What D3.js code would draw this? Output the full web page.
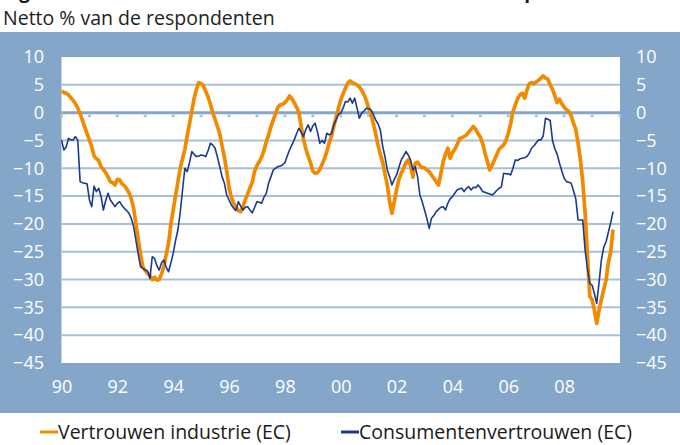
<!DOCTYPE html>
<html>
<head>
<meta charset="utf-8">
<script src="https://cdn.jsdelivr.net/npm/d3@7"></script>
<style>
  body { margin: 0; background: #fff; }
  svg text { font-family: "Open Sans", "DejaVu Sans", sans-serif; }
</style>
</head>
<body>
<script>
// monthly series, Jan 1990 .. Oct 2009 (netto % van de respondenten)
var industrie = [
  3.9, 3.6, 3.5, 3.2, 2.7, 2.2, 1.6, 0.8, -0.2, -1.4, -2.6, -3.8,          // 1990
  -4.9, -6.2, -7.8, -8.3, -8.6, -9.7, -10.2, -10.8, -11.6, -12.4, -12.6, -13.0,
  -12.0, -12.1, -12.8, -13.1, -13.7, -14.4, -15.5, -17.2, -20.0, -23.0, -25.5, -27.8,
  -28.4, -28.9, -29.3, -30.0, -29.6, -30.1, -30.0, -29.0, -27.6, -25.5, -23.5, -20.0,
  -17.5, -15.0, -12.5, -10.0, -8.3, -6.6, -4.2, -2.0, 0.3, 2.6, 4.2, 5.4,
  5.2, 4.8, 3.8, 2.8, 1.5, 0.0, -1.2, -2.5, -3.8, -6.0, -8.0, -10.5,         // 1995
  -13.5, -15.2, -16.3, -17.0, -17.6, -17.8, -16.9, -15.6, -14.6, -13.5, -12.5, -10.5,
  -9.5, -8.8, -8.0, -6.8, -5.2, -4.0, -2.5, -1.3, -0.2, 1.0, 1.4, 1.5,
  1.8, 2.3, 3.0, 2.5, 1.8, 1.0, 0.0, -2.5, -4.8, -6.5, -7.8, -9.0,
  -10.5, -10.9, -10.8, -10.2, -9.3, -8.3, -7.0, -5.5, -4.2, -2.5, -0.8, 0.8,
  2.3, 3.4, 4.4, 5.3, 5.7, 5.4, 5.2, 5.0, 4.6, 4.0, 3.2, 2.2,               // 2000
  0.8, -0.3, -2.0, -3.8, -5.8, -7.5, -8.9, -11.0, -13.0, -16.0, -18.1, -16.0,
  -13.8, -12.0, -10.9, -10.0, -9.0, -8.5, -9.5, -11.6, -9.1, -8.9, -9.5, -9.9,
  -9.9, -10.3, -10.6, -11.2, -11.8, -12.4, -13.0, -11.0, -8.8, -7.5, -6.4, -8.2,
  -7.2, -6.6, -5.8, -4.7, -4.5, -4.3, -4.0, -3.5, -3.0, -2.5, -3.0, -3.8,
  -4.4, -5.6, -7.3, -8.8, -10.3, -9.5, -8.5, -7.6, -6.6, -6.2, -5.8, -5.0,  // 2005
  -3.7, -2.0, 0.2, 1.4, 2.5, 3.2, 3.5, 2.6, 4.0, 5.2, 5.4, 5.2,
  5.5, 5.8, 6.2, 6.6, 6.2, 6.0, 5.0, 4.2, 3.0, 1.8, 2.4, 1.6,
  1.0, 0.5, 0.2, -0.5, -1.9, -3.0, -5.5, -8.5, -12.5, -18.0, -25.5, -33.0,
  -33.6, -35.5, -37.9, -35.5, -33.6, -31.8, -30.1, -27.0, -25.0, -21.0
];

var consumenten = [
  -4.9, -6.7, -6.2, -4.6, -4.9, -4.9, -4.3, -5.0, -12.4, -12.6, -12.7, -12.8, // 1990
  -15.7, -16.9, -13.2, -14.2, -13.6, -15.1, -17.5, -15.8, -14.5, -15.7, -16.3, -16.9,
  -16.3, -16.0, -16.7, -17.2, -17.6, -18.1, -19.0, -20.5, -23.0, -25.5, -27.7, -28.0,
  -28.3, -28.5, -29.8, -25.9, -26.2, -27.5, -28.3, -27.0, -26.5, -27.8, -28.6, -27.0,
  -25.3, -23.0, -21.1, -18.0, -14.0, -10.0, -10.6, -9.0, -7.0, -7.5, -7.9, -7.8,
  -7.6, -7.7, -7.9, -6.8, -5.5, -5.8, -6.4, -8.0, -9.7, -11.5, -12.7, -14.8,  // 1995
  -15.7, -16.6, -17.2, -17.6, -16.0, -16.8, -17.5, -17.0, -16.9, -17.5, -18.0, -17.0,
  -16.0, -16.1, -16.3, -15.2, -14.5, -12.7, -11.5, -10.3, -10.0, -9.7, -9.6, -9.4,
  -9.0, -7.8, -6.7, -5.8, -4.9, -3.8, -2.8, -3.5, -4.3, -3.0, -2.2, -3.4,
  -2.4, -1.9, -3.5, -5.5, -5.0, -5.5, -3.7, -4.0, -3.8, -2.2, -1.3, -0.3,
  -0.1, 0.8, 2.0, 1.9, 2.6, 1.7, 2.6, 0.8, -1.0, -0.1, 0.3, 0.8,              // 2000
  0.7, 0.5, -0.3, -1.3, -2.0, -3.1, -6.0, -7.9, -10.3, -11.5, -13.0, -12.0,
  -11.2, -9.8, -8.5, -7.8, -7.0, -7.6, -8.5, -10.3, -9.7, -11.5, -14.8, -16.0,
  -17.5, -19.0, -20.8, -19.0, -18.5, -17.8, -17.4, -17.0, -16.9, -17.5, -16.3, -15.5,
  -15.1, -14.5, -13.9, -13.7, -13.6, -14.2, -13.6, -13.3, -13.9, -13.4, -13.5, -13.0,
  -13.5, -14.2, -14.3, -14.5, -14.6, -14.8, -14.5, -14.0, -13.6, -13.4, -10.9, -11.0, // 2005
  -11.0, -11.2, -10.0, -8.5, -8.6, -8.3, -8.2, -8.1, -7.9, -7.3, -6.4, -6.0,
  -5.4, -4.9, -4.9, -4.2, -1.0, -1.2, -1.4, -5.0, -6.5, -7.5, -9.1, -10.5,
  -11.8, -12.4, -12.5, -12.7, -14.0, -15.5, -19.3, -19.3, -19.3, -24.7, -28.0, -30.7,
  -31.0, -32.5, -34.3, -30.5, -26.5, -24.2, -23.2, -21.5, -19.8, -17.8
];

var yTicks = [10, 5, 0, -5, -10, -15, -20, -25, -30, -35, -40, -45];
var xTickYears = [1990, 1992, 1994, 1996, 1998, 2000, 2002, 2004, 2006, 2008];
var xTickLabels = ["90", "92", "94", "96", "98", "00", "02", "04", "06", "08"];
var yearMarks = d3.range(1990, 2011);
var legendNames = ["Vertrouwen industrie (EC)", "Consumentenvertrouwen (EC)"];

var W = 680, H = 445;
var plot = {left: 61.5, right: 620, top: 57, bottom: 363};

var svg = d3.select("body").append("svg")
    .attr("width", W)
    .attr("height", H);

// clipped title line at the very top
svg.append("text")
    .attr("x", 3).attr("y", -2.5)
    .attr("font-size", 19).attr("font-weight", "bold")
    .attr("fill", "#1a1a1a")
    .text("Figuur 4 Vertrouwen industrie en consumenten in Europa");

svg.append("text")
    .attr("x", 3).attr("y", 25)
    .attr("font-size", 19.5)
    .attr("fill", "#222")
    .text("Netto % van de respondenten");

// blue band behind the chart
svg.append("rect")
    .attr("x", 0).attr("y", 32)
    .attr("width", W).attr("height", 381)
    .attr("fill", "#84a6c8");

svg.append("rect")
    .attr("x", plot.left).attr("y", plot.top)
    .attr("width", plot.right - plot.left).attr("height", plot.bottom - plot.top)
    .attr("fill", "#fff");

var x = d3.scaleLinear().domain([1990, 2010]).range([plot.left, plot.right]);
var y = d3.scaleLinear().domain([-45, 10]).range([plot.bottom, plot.top]);

// gridlines
svg.selectAll(".grid")
    .data(yTicks.filter(function(d) { return d !== 0 && d !== -45 && d !== 10; }))
    .enter().append("line")
    .attr("class", "grid")
    .attr("x1", plot.left).attr("x2", plot.right)
    .attr("y1", function(d) { return y(d); })
    .attr("y2", function(d) { return y(d); })
    .attr("stroke", "#a7bfda")
    .attr("stroke-width", 2);

// zero line + small year marks
svg.append("line")
    .attr("x1", plot.left).attr("x2", plot.right)
    .attr("y1", y(0)).attr("y2", y(0))
    .attr("stroke", "#84a6c8")
    .attr("stroke-width", 3);

svg.selectAll(".ymark")
    .data(yearMarks)
    .enter().append("rect")
    .attr("class", "ymark")
    .attr("x", function(d) { return x(d) - 1.5; })
    .attr("y", y(0) + 2)
    .attr("width", 3).attr("height", 2.5)
    .attr("fill", "#a7bfda");

// axes (labels only)
function styleAxis(g) {
    g.select(".domain").remove();
    g.selectAll("line").remove();
    g.selectAll("text")
        .attr("fill", "#fff")
        .attr("font-size", 18)
        .attr("font-family", "'Open Sans', 'DejaVu Sans', sans-serif");
}

svg.append("g")
    .attr("transform", "translate(44,0)")
    .call(d3.axisLeft(y).tickValues(yTicks).tickSize(0).tickPadding(0))
    .call(styleAxis);

svg.append("g")
    .attr("transform", "translate(636,0)")
    .call(d3.axisRight(y).tickValues(yTicks).tickSize(0).tickPadding(0))
    .call(styleAxis);

svg.append("g")
    .attr("transform", "translate(0,380)")
    .call(d3.axisBottom(x).tickValues(xTickYears).tickSize(0).tickPadding(0)
        .tickFormat(function(d, i) { return xTickLabels[i]; }))
    .call(styleAxis);

// lines
var line = d3.line()
    .x(function(d, i) { return x(1990 + i / 12); })
    .y(function(d) { return y(d); });

svg.append("path")
    .datum(industrie)
    .attr("d", line)
    .attr("fill", "none")
    .attr("stroke", "#f28a00")
    .attr("stroke-width", 3.7)
    .attr("stroke-linejoin", "round");

svg.append("path")
    .datum(consumenten)
    .attr("d", line)
    .attr("fill", "none")
    .attr("stroke", "#1b3a8c")
    .attr("stroke-width", 1.6)
    .attr("stroke-linejoin", "round");

// legend
var legendColors = ["#f28a00", "#1b3a8c"];
var legendX = [40, 341];
var legend = svg.selectAll(".legend")
    .data(legendNames)
    .enter().append("g")
    .attr("class", "legend")
    .attr("transform", function(d, i) { return "translate(" + legendX[i] + ",432)"; });

legend.append("line")
    .attr("x1", 0).attr("x2", 18)
    .attr("y1", 0).attr("y2", 0)
    .attr("stroke", function(d, i) { return legendColors[i]; })
    .attr("stroke-width", 3);

legend.append("text")
    .attr("x", 18).attr("y", 7)
    .attr("font-size", 19.5)
    .attr("fill", "#1a1a1a")
    .text(function(d) { return d; });
</script>
</body>
</html>
